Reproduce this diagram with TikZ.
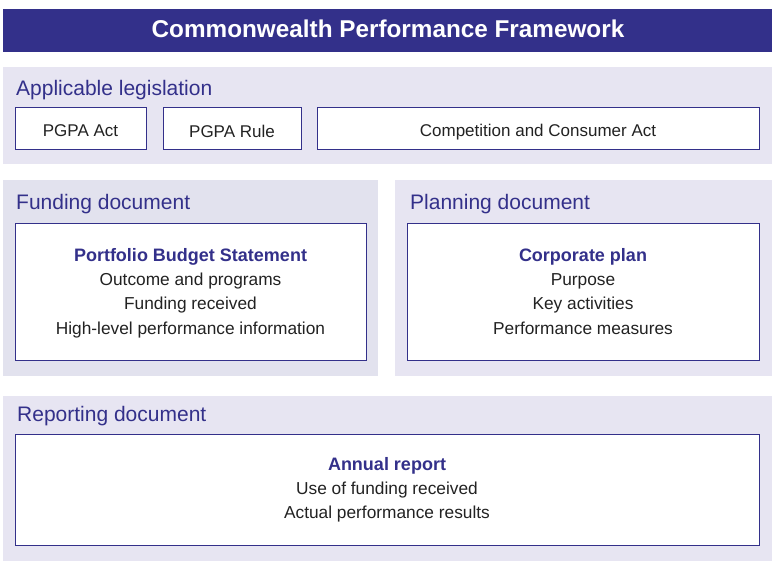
\documentclass[tikz,border=0pt]{standalone}
\usepackage{fontspec}
\setmainfont{Liberation Sans}
\definecolor{indigo}{HTML}{33308A}
\definecolor{panel}{HTML}{E7E5F2}
\definecolor{panelb}{HTML}{E2E2EE}
\definecolor{bodytext}{HTML}{222222}
\begin{document}
\begin{tikzpicture}[x=1pt,y=-1pt,
  itembox/.style={fill=white,draw=indigo,line width=1pt},
  heading/.style={anchor=base west,inner sep=0pt,text=indigo,font=\fontsize{21}{24}\selectfont},
  itemtext/.style={anchor=base,text=bodytext,font=\fontsize{17}{20}\selectfont},
  boldhead/.style={anchor=base,text=indigo,font=\bfseries\fontsize{18}{21}\selectfont},
  bodyline/.style={anchor=base,text=bodytext,font=\fontsize{17.3}{20}\selectfont}]
\useasboundingbox (0,0) rectangle (775,568);
% title
\fill[indigo] (3,9) rectangle (772,52);
\node[anchor=base,text=white,font=\bfseries\fontsize{24.3}{28}\selectfont] (title) at (388,37) {Commonwealth Performance Framework};
% legislation
\fill[panel] (3,67) rectangle (772,164);
\node[heading] (legh) at (16,95) {Applicable legislation};
\draw[itembox] (15,107) rectangle (146,149);
\node[itemtext] (act) at (80.5,136) {PGPA Act};
\draw[itembox] (163,107) rectangle (301,149);
\node[itemtext] (rule) at (232,137) {PGPA Rule};
\draw[itembox] (317,107) rectangle (759,149);
\node[itemtext] (cca) at (538,136) {Competition and Consumer Act};
% funding
\fill[panelb] (3,180) rectangle (378,376);
\node[heading] (fundh) at (16,209) {Funding document};
\draw[itembox] (15,223) rectangle (366,360);
\node[boldhead] (pbs) at (190.5,261) {Portfolio Budget Statement};
\node[bodyline] (pbs1) at (190.5,285) {Outcome and programs};
\node[bodyline] (pbs2) at (190.5,309) {Funding received};
\node[bodyline] (pbs3) at (190.5,334) {High-level performance information};
% planning
\fill[panel] (395,180) rectangle (772,376);
\node[heading] (planh) at (410,209) {Planning document};
\draw[itembox] (407,223) rectangle (759,360);
\node[boldhead] (cp) at (583,261) {Corporate plan};
\node[bodyline] (cp1) at (583,285) {Purpose};
\node[bodyline] (cp2) at (583,309) {Key activities};
\node[bodyline] (cp3) at (583,334) {Performance measures};
% reporting
\fill[panel] (3,396) rectangle (772,561);
\node[heading] (reph) at (17,421.5) {Reporting document};
\draw[itembox] (15,434) rectangle (759,545);
\node[boldhead] (ar) at (387,470) {Annual report};
\node[bodyline] (ar1) at (387,494.5) {Use of funding received};
\node[bodyline] (ar2) at (387,518) {Actual performance results};
\end{tikzpicture}
\end{document}
